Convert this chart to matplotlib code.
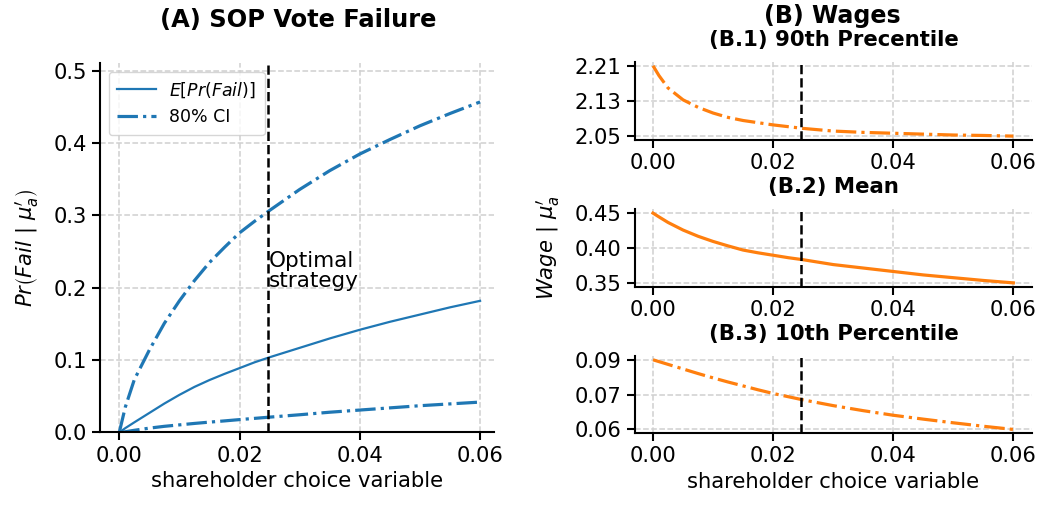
import numpy as np
import matplotlib
matplotlib.use("Agg")
import matplotlib.pyplot as plt

# ---- data ----
x = [0, 0.001, 0.0025, 0.005, 0.0075, 0.01, 0.0125, 0.015, 0.0175, 0.02, 0.0225, 0.025,
     0.03, 0.035, 0.04, 0.045, 0.05, 0.055, 0.06]
fail_mean = [0, 0.006, 0.014, 0.027, 0.040, 0.052, 0.063, 0.0725, 0.081, 0.089, 0.097, 0.104,
             0.117, 0.130, 0.142, 0.153, 0.163, 0.173, 0.182]
fail_hi = [0, 0.035, 0.073, 0.114, 0.151, 0.182, 0.210, 0.235, 0.256, 0.276, 0.292, 0.307,
           0.336, 0.362, 0.385, 0.405, 0.424, 0.441, 0.457]
fail_lo = [0, 0.001, 0.003, 0.006, 0.0085, 0.0105, 0.0125, 0.0143, 0.016, 0.0178, 0.0195, 0.0212,
           0.0245, 0.028, 0.031, 0.034, 0.037, 0.0395, 0.042]
wage_p90 = [2.2105, 2.188, 2.160, 2.133, 2.116, 2.103, 2.093, 2.086, 2.081, 2.076, 2.072, 2.068,
            2.062, 2.059, 2.057, 2.055, 2.053, 2.052, 2.0505]
wage_mean = [0.4505, 0.445, 0.437, 0.426, 0.417, 0.4095, 0.403, 0.397, 0.393, 0.3895, 0.386, 0.383,
             0.376, 0.371, 0.366, 0.361, 0.357, 0.353, 0.3495]
wage_p10 = [0.0900, 0.0892, 0.0880, 0.0860, 0.0840, 0.0821, 0.0803, 0.0786, 0.0769, 0.0753, 0.0739, 0.0725,
            0.0700, 0.0678, 0.0658, 0.0641, 0.0625, 0.0610, 0.0596]
optimal_x = 0.0247
xticks = [0.0, 0.02, 0.04, 0.06]

BLUE = "#1f77b4"
ORANGE = "#ff7f0e"
FS = 15.2

plt.rcParams['font.family'] = ['DejaVu Sans']
plt.rcParams['mathtext.fontset'] = 'dejavusans'

fig = plt.figure(figsize=(10.42, 5.07), dpi=100)

def style(ax):
    for s in ['top', 'right']:
        ax.spines[s].set_visible(False)
    for s in ['left', 'bottom']:
        ax.spines[s].set_linewidth(1.5)
    ax.tick_params(labelsize=FS, width=1.5, length=6)
    ax.grid(True, linestyle='--', color='#d0d0d0', linewidth=1.1)
    ax.set_axisbelow(True)
    ax.set_xticks(xticks)
    ax.set_xticklabels([f"{t:.2f}" for t in xticks])

# ---- left panel ----
axA = fig.add_axes([0.0960, 0.147, 0.378, 0.729])
style(axA)
axA.plot(x, fail_mean, color=BLUE, lw=1.6, label=r"$E[Pr(Fail)]$")
axA.plot(x, fail_hi, color=BLUE, lw=2.3, ls='-.', label="80% CI")
axA.plot(x, fail_lo, color=BLUE, lw=2.3, ls='-.')
axA.axvline(optimal_x, color='black', ls='--', lw=1.8)
axA.text(optimal_x + 0.0002, 0.195, "Optimal\nstrategy", fontsize=15.5, ha='left', va='bottom',
         linespacing=1.0)
axA.set_xlim(-0.0032, 0.0623)
axA.set_ylim(0, 0.511)
axA.set_yticks([0, 0.1, 0.2, 0.3, 0.4, 0.5])
axA.set_yticklabels([f"{t:.1f}" for t in [0, 0.1, 0.2, 0.3, 0.4, 0.5]])
axA.set_ylabel(r"$Pr\left(Fail\ |\ \mu_a'\right)$", fontsize=FS, labelpad=9)
axA.set_xlabel("shareholder choice variable", fontsize=FS)
leg = axA.legend(loc='upper left', fontsize=12.5, frameon=True, fancybox=True,
                 handlelength=2.2, borderpad=0.5)
leg.get_frame().set_edgecolor('#cccccc')
fig.text(0.286, 0.9606, "(A) SOP Vote Failure", fontsize=17.4, fontweight='bold',
         ha='center', va='center')

# ---- right panels ----
def wage_panel(rect, y, ls, title):
    ax = fig.add_axes(rect)
    style(ax)
    ax.plot(x, y, color=ORANGE, lw=2.3, ls=ls)
    ax.axvline(optimal_x, color='black', ls='--', lw=1.8)
    lo, hi = min(y), max(y)
    ticks = [lo, (lo + hi) / 2, hi]
    ax.set_yticks(ticks)
    ax.set_yticklabels([f"{t:.2f}" for t in ticks])
    pad = (hi - lo) * 0.055
    ax.set_ylim(lo - pad, hi + pad)
    ax.set_xlim(-0.0030, 0.0631)
    ax.annotate(title, xy=(0.5, 1.0), xycoords='axes fraction', xytext=(0, 22),
                textcoords='offset pixels', ha='center', va='center',
                fontsize=15.3, fontweight='bold')
    return ax

axB1 = wage_panel([0.6094, 0.7239, 0.381, 0.154], wage_p90, '-.', "(B.1) 90th Precentile")
axB2 = wage_panel([0.6094, 0.4345, 0.381, 0.1527], wage_mean, '-', "(B.2) Mean")
axB3 = wage_panel([0.6094, 0.1454, 0.381, 0.1525], wage_p10, '-.', "(B.3) 10th Percentile")
axB2.set_ylabel(r"$Wage\ |\ \mu_a'$", fontsize=FS, labelpad=9)
axB3.set_xlabel("shareholder choice variable", fontsize=FS)
fig.text(0.7985, 0.968, "(B) Wages", fontsize=17.1, fontweight='bold', ha='center', va='center')

fig.savefig("out.png", dpi=100)
